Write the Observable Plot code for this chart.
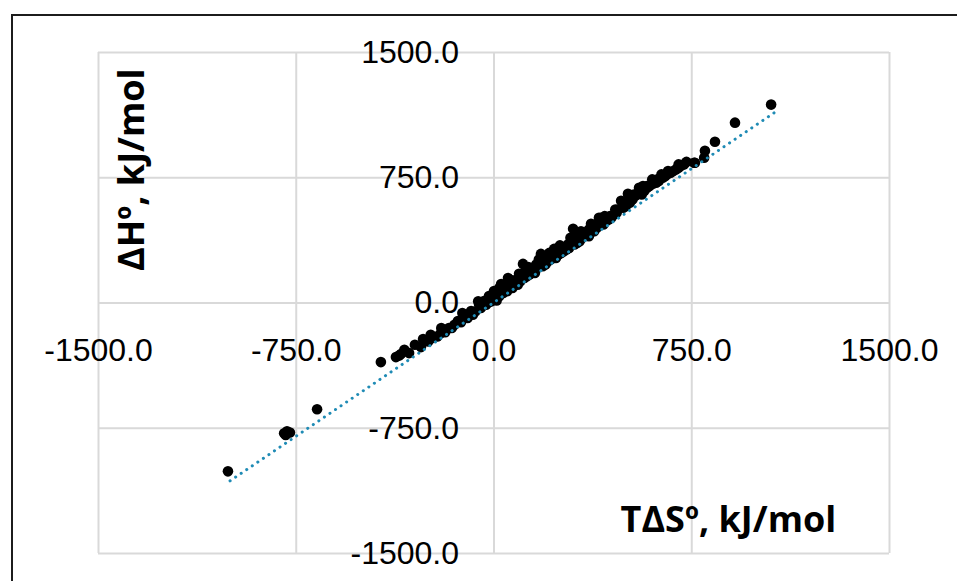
<!DOCTYPE html>
<html>
<head>
<meta charset="utf-8">
<script src="https://cdn.jsdelivr.net/npm/d3@7"></script>
<script src="https://cdn.jsdelivr.net/npm/@observablehq/plot@0.6"></script>
<style>
  html, body { margin: 0; padding: 0; background: #fff; overflow: hidden; }
  #wrap { position: relative; width: 957px; height: 581px; }
  #frame { position: absolute; left: 11px; top: 14px; width: 980px; height: 620px;
           border: 2.5px solid #1c1c1c; box-sizing: border-box; pointer-events: none; }
</style>
</head>
<body>
<div id="wrap"><div id="frame"></div></div>
<script>
// T·ΔS° (kJ/mol) values
const tds = [-1009,-796,-785,-774,-790,-671,-429,-372,-360,-353,-322,-277,-269,-250,-231,-215,-201,-185,-171,-160,-150,-137,-125,-114,-100,-87,-80,-70,-57,-50,-45,-38,-30,-25,-19,-10,0,5,10,15,20,27,35,40,50,53,60,70,80,90,100,110,115,125,135,145,155,165,178,185,195,205,215,228,235,245,255,265,275,285,300,305,315,325,335,349,360,368,380,390,398,406,415,425,435,445,455,465,482,490,500,508,515,525,535,550,560,570,580,590,603,615,625,640,650,660,670,680,690,709,720,730,759,762,797,800,838,914,1051,
  -20,8,30,45,65,85,105,120,140,160,175,200,220,240,260,280,295,320,340,360,385,410,440,470,495,530,565,600,635,700,
  20,60,95,130,170,210,250,290,330,370,420,460,500,540,580,620,660,700,-60,-120,-200,-240,-300,-340];
// ΔH° (kJ/mol) values
const dh = [-1008,-780,-768,-775,-790,-636,-354,-324,-315,-306,-300,-264,-216,-230,-210,-200,-180,-175,-150,-150,-130,-108,-115,-90,-90,-48,-70,-50,-6,-30,-20,12,-10,20,42,10,72,30,15,50,40,114,60,80,70,150,100,90,120,110,130,234,150,160,170,200,180,210,294,220,230,250,260,324,270,290,300,310,320,330,444,350,360,370,390,414,400,474,430,450,510,510,470,490,500,510,530,540,612,570,580,654,600,620,640,690,650,670,690,700,714,720,730,750,760,774,780,790,800,822,830,845,840,840,870,912,966,1080,1188,
  5,45,75,100,120,140,160,190,185,230,240,260,290,300,330,350,370,400,420,440,460,480,520,560,600,650,700,740,770,810,
  90,140,175,215,260,300,345,390,430,470,520,560,610,650,700,740,790,830,10,-60,-150,-190,-250,-280];

// linear trendline
const trendX = [-1001, 1062];
const trendSlope = 1.068;
const trendIntercept = 4;

const ticks = [-1500, -750, 0, 750, 1500];
const tickLabels = ["-1500.0", "-750.0", "0.0", "750.0", "1500.0"];

const xTitle = "TΔSº, kJ/mol";
const yTitle = "ΔHº, kJ/mol";

const points = tds.map((x, i) => ({x, y: dh[i]}));
const trend = trendX.map(x => ({x, y: trendSlope * x + trendIntercept}));
const tickData = ticks.map((v, i) => ({v, label: tickLabels[i]}));

const chart = Plot.plot({
  width: 957,
  height: 581,
  marginLeft: 98,
  marginRight: 68,
  marginTop: 52,
  marginBottom: 28,
  x: {domain: [-1500, 1500], axis: null},
  y: {domain: [-1500, 1500], axis: null},
  style: {fontFamily: "'Liberation Sans', Arial, sans-serif", background: "transparent", overflow: "visible"},
  marks: [
    Plot.ruleX(ticks, {stroke: "#d9d9d9", strokeWidth: 2, strokeOpacity: 1}),
    Plot.ruleY(ticks, {stroke: "#d9d9d9", strokeWidth: 2, strokeOpacity: 1}),
    Plot.dot(points, {x: "x", y: "y", r: 5.3, fill: "#000", stroke: "none"}),
    Plot.line(trend, {x: "x", y: "y", stroke: "#1f8bb5", strokeWidth: 3,
      strokeDasharray: "0.1,6.6", strokeLinecap: "round"}),
    Plot.text(tickData, {x: "v", y: 0, text: "label", dy: 48, fontSize: 32,
      fill: "#000", textAnchor: "middle", lineAnchor: "middle"}),
    Plot.text(tickData, {x: 0, y: "v", text: "label", dx: -35, fontSize: 32,
      fill: "#000", textAnchor: "end", lineAnchor: "middle"}),
    Plot.text([xTitle], {x: 889, y: -1302, text: d => d, fontSize: 36, fontWeight: 700,
      fontFamily: "'Open Sans', sans-serif", fill: "#000", textAnchor: "middle", lineAnchor: "middle"}),
    Plot.text([yTitle], {x: -1373, y: 798, text: d => d, rotate: -90, fontSize: 36, fontWeight: 700,
      fontFamily: "'Open Sans', sans-serif", fill: "#000", textAnchor: "middle", lineAnchor: "middle"})
  ]
});
document.getElementById("wrap").prepend(chart);
</script>
</body>
</html>
